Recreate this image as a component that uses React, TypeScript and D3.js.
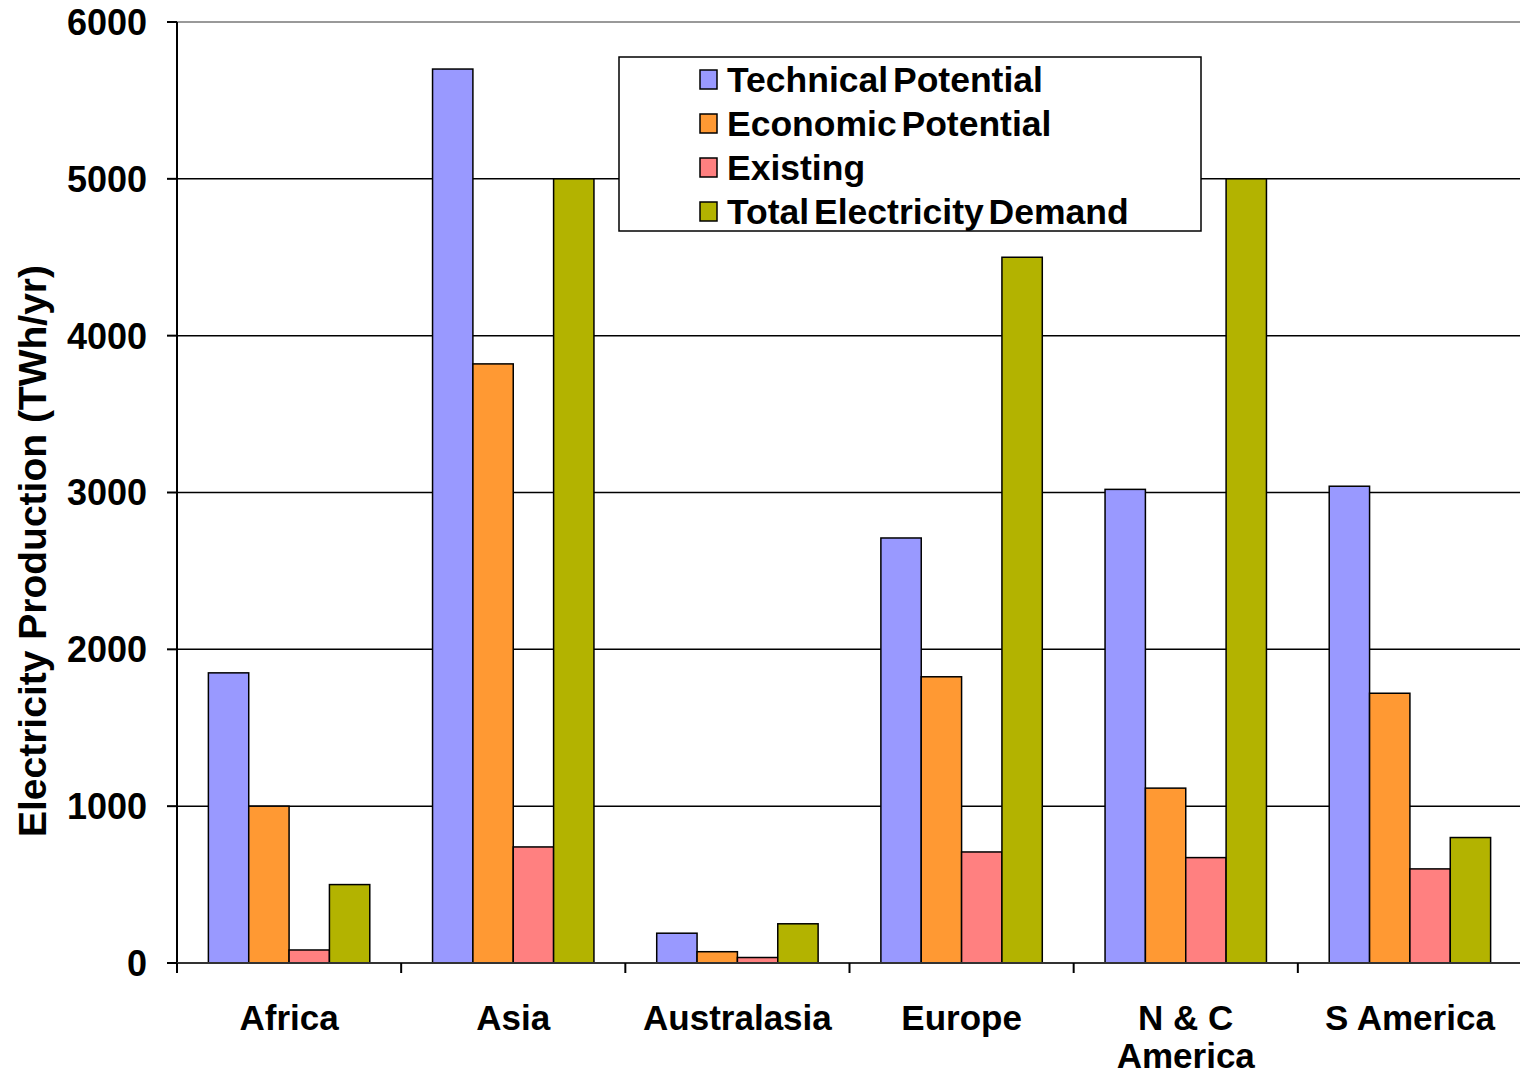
import React from "react";
import * as d3 from "d3";

const categories = ["Africa", "Asia", "Australasia", "Europe", "N & C America", "S America"];
const categoryLines = [["Africa"], ["Asia"], ["Australasia"], ["Europe"], ["N & C", "America"], ["S America"]];
const seriesNames = ["Technical Potential", "Economic Potential", "Existing", "Total Electricity Demand"];
const technical = [1850, 5700, 190, 2710, 3020, 3040];
const economic = [1000, 3820, 72, 1825, 1115, 1720];
const existing = [83, 740, 35, 708, 672, 600];
const demand = [500, 5000, 250, 4500, 5000, 800];
const colors = ["#9999FF", "#FF9933", "#FF8080", "#B3B300"];
const yTicks = [0, 1000, 2000, 3000, 4000, 5000, 6000];

const seriesValues = [technical, economic, existing, demand];

export default function App() {
  const W = 1520, H = 1072;
  const left = 177, right = 1522, top = 22, bottom = 963;
  const x0 = d3.scaleBand<string>().domain(categories).range([left, right]).paddingInner(0).paddingOuter(0);
  const bw = x0.bandwidth();
  const x1 = d3.scaleBand<string>().domain(seriesNames).range([bw * 0.14, bw * 0.86]).padding(0);
  const y = d3.scaleLinear().domain([0, 6000]).range([bottom, top]);
  const font = "'Liberation Sans', Arial, sans-serif";

  return (
    <svg width={W} height={H} style={{ position: "absolute", left: 0, top: 0, background: "#fff" }} fontFamily={font}>
      {/* gridlines */}
      {yTicks.filter((t) => t > 0).map((t) => (
        <line key={t} x1={left} x2={W} y1={y(t)} y2={y(t)} stroke={t === 6000 ? "#777" : "#000"} strokeWidth={1.5} />
      ))}
      {/* bars */}
      {categories.map((c, ci) => (
        <g key={c} transform={`translate(${x0(c)},0)`}>
          {seriesNames.map((s, si) => {
            const v = seriesValues[si][ci];
            return (
              <rect key={s} x={x1(s)} y={y(v)} width={x1.bandwidth()} height={y(0) - y(v)}
                fill={colors[si]} stroke="#000" strokeWidth={1.5} />
            );
          })}
        </g>
      ))}
      {/* y axis */}
      <line x1={left} x2={left} y1={top} y2={bottom} stroke="#000" strokeWidth={2} />
      {yTicks.map((t) => (
        <g key={t}>
          <line x1={left - 10} x2={left} y1={y(t)} y2={y(t)} stroke="#000" strokeWidth={2} />
          <text x={147} y={y(t)} dy="0.36em" textAnchor="end" fontSize={36} fontWeight="bold">{t}</text>
        </g>
      ))}
      {/* x axis */}
      <line x1={left} x2={W} y1={bottom} y2={bottom} stroke="#333" strokeWidth={2} />
      {categories.map((c) => (
        <line key={c} x1={x0(c)!} x2={x0(c)!} y1={bottom} y2={bottom + 10} stroke="#000" strokeWidth={2} />
      ))}
      {categories.map((c, ci) => (
        <text key={c} x={x0(c)! + bw / 2} y={1030} textAnchor="middle" fontSize={35} fontWeight="bold">
          {categoryLines[ci].map((ln, li) => (
            <tspan key={li} x={x0(c)! + bw / 2} dy={li === 0 ? 0 : 38}>{ln}</tspan>
          ))}
        </text>
      ))}
      {/* y title */}
      <text transform={`translate(46,${551}) rotate(-90)`} textAnchor="middle" fontSize={39} fontWeight="bold">
        Electricity Production (TWh/yr)
      </text>
      {/* legend */}
      <rect x={619} y={57} width={582} height={174} fill="#fff" stroke="#000" strokeWidth={1.5} />
      {seriesNames.map((s, si) => (
        <g key={s} transform={`translate(0,${79 + si * 44})`}>
          <rect x={700} y={-9} width={17} height={19} fill={colors[si]} stroke="#000" strokeWidth={1.5} />
          <text x={727} y={0} dy="0.36em" fontSize={35.5} fontWeight="bold" wordSpacing={-5}>{s}</text>
        </g>
      ))}
    </svg>
  );
}
